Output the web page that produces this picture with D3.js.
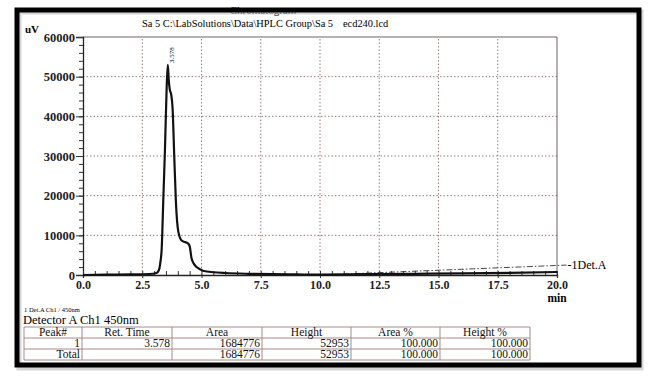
<!doctype html>
<html lang="en">
<head>
<meta charset="utf-8">
<title>Chromatogram</title>
<script src="https://cdn.jsdelivr.net/npm/d3@7"></script>
<style>
  html, body { margin: 0; background: #fff; }
  svg { display: block; font-family: "Liberation Serif", "Times New Roman", serif; }
</style>
</head>
<body>
<div id="chart"></div>
<script>
// chromatogram trace (min, uV)
const times  = [0, 1, 2, 2.8, 3.1, 3.2, 3.26, 3.32, 3.39, 3.46, 3.53, 3.578, 3.62, 3.66, 3.72, 3.78, 3.85, 3.92, 4.02, 4.16, 4.3, 4.42, 4.5, 4.58, 4.68, 4.79, 4.95, 5.1, 5.5, 6, 7, 8, 9, 10, 12, 14, 16, 18, 20];
const signal = [0, 100, 150, 250, 500, 1200, 3000, 6600, 19300, 32000, 47200, 52953, 49000, 46800, 45500, 42000, 30000, 18500, 11000, 8700, 8300, 8000, 7300, 4200, 2800, 2000, 1400, 1000, 700, 500, 300, 200, 150, 100, 200, 300, 400, 550, 750];

// dash-dot baseline drawn to the Det.A label
const baseTimes  = [10, 20.4];
const baseValues = [0, 2500];

const xTicks = [0, 2.5, 5, 7.5, 10, 12.5, 15, 17.5, 20];
const yTicks = [0, 10000, 20000, 30000, 40000, 50000, 60000];

const peakTime = 3.578, peakHeight = 52953;

const tableHeader = ["Peak#", "Ret. Time", "Area", "Height", "Area %", "Height %"];
const peakRow  = ["1", "3.578", "1684776", "52953", "100.000", "100.000"];
const totalRow = ["Total", "", "1684776", "52953", "100.000", "100.000"];

const W = 650, H = 379;
const svg = d3.select("#chart").append("svg").attr("width", W).attr("height", H);
svg.append("rect").attr("width", W).attr("height", H).attr("fill", "#fff");

const x = d3.scaleLinear().domain([0, 20]).range([83, 557]);
const y = d3.scaleLinear().domain([0, 60000]).range([275, 37]);

// titles
svg.append("text").attr("x", 263).attr("y", 14).attr("text-anchor", "middle")
    .attr("font-size", 11).text("Chromatogram");
svg.append("text").attr("x", 142).attr("y", 27).attr("font-size", 10.4)
    .text("Sa 5 C:\\LabSolutions\\Data\\HPLC Group\\Sa 5");
svg.append("text").attr("x", 343).attr("y", 27).attr("font-size", 10.4)
    .text("ecd240.lcd");

// grid
const grid = svg.append("g").attr("stroke", "#8c6f66").attr("stroke-width", 0.9)
    .attr("stroke-dasharray", "1.5,2");
grid.selectAll("line.v").data(xTicks.slice(1, -1)).join("line")
    .attr("x1", d => x(d)).attr("x2", d => x(d))
    .attr("y1", y(0)).attr("y2", y(60000));
grid.selectAll("line.h").data(yTicks.slice(1, -1)).join("line")
    .attr("x1", x(0)).attr("x2", x(20))
    .attr("y1", d => y(d)).attr("y2", d => y(d));

// top / right frame of plot
svg.append("path")
    .attr("d", `M${x(0)},${y(60000)}H${x(20)}V${y(0)}`)
    .attr("fill", "none").attr("stroke", "#6e6262").attr("stroke-width", 1);

// y axis
const yMinor = d3.range(0, 60001, 2000);
svg.append("g").attr("transform", `translate(${x(0)},0)`)
    .call(d3.axisLeft(y).tickValues(yMinor).tickSize(4).tickFormat(""))
    .call(g => g.select(".domain").remove())
    .selectAll("line").attr("stroke", "#333");
svg.append("g").attr("transform", `translate(${x(0)},0)`)
    .call(d3.axisLeft(y).tickValues(yTicks).tickSize(7).tickPadding(1).tickFormat(d3.format("d")))
    .call(g => g.select(".domain").attr("stroke", "#222").attr("stroke-width", 1.3))
    .call(g => g.selectAll("line").attr("stroke", "#333"))
    .call(g => g.selectAll("text").attr("font-family", "Liberation Serif").attr("font-size", 12.5)
        .attr("font-weight", "bold").attr("fill", "#222"));

// x axis
const xMinor = d3.range(0, 20.01, 0.5);
svg.append("g").attr("transform", `translate(0,${y(0)})`)
    .call(d3.axisBottom(x).tickValues(xMinor).tickSize(-4).tickFormat(""))
    .call(g => g.select(".domain").remove())
    .selectAll("line").attr("stroke", "#333");
svg.append("g").attr("transform", `translate(0,${y(0)})`)
    .call(d3.axisBottom(x).tickValues(xTicks).tickSize(3).tickPadding(2).tickFormat(d3.format(".1f")))
    .call(g => g.select(".domain").attr("stroke", "#222").attr("stroke-width", 1.3))
    .call(g => g.selectAll("line").attr("stroke", "#333"))
    .call(g => g.selectAll("text").attr("font-family", "Liberation Serif").attr("font-size", 12)
        .attr("font-weight", "bold").attr("fill", "#222"));

svg.append("text").attr("x", 25).attr("y", 33).attr("font-size", 11)
    .attr("font-weight", "bold").text("uV");
svg.append("text").attr("x", x(20)).attr("y", 302).attr("text-anchor", "middle")
    .attr("font-size", 11.5).attr("font-weight", "bold").text("min");

// dash-dot baseline
svg.append("path")
    .datum(d3.zip(baseTimes, baseValues))
    .attr("fill", "none").attr("stroke", "#333").attr("stroke-width", 0.9)
    .attr("stroke-dasharray", "6,2,1.5,2")
    .attr("d", d3.line().x(d => x(d[0])).y(d => y(d[1])));
svg.append("text").attr("x", x(baseTimes[1]) + 1).attr("y", y(baseValues[1]) + 4)
    .attr("font-size", 12).text("-1Det.A");

// trace
svg.append("path")
    .datum(d3.zip(times, signal))
    .attr("fill", "none").attr("stroke", "#111").attr("stroke-width", 2.2)
    .attr("stroke-linejoin", "round")
    .attr("d", d3.line().x(d => x(d[0])).y(d => y(d[1])).curve(d3.curveMonotoneX));

// peak label
svg.append("text")
    .attr("transform", `translate(${x(peakTime) + 6},${y(peakHeight) - 2}) rotate(-90)`)
    .attr("font-size", 7).text(peakTime.toFixed(3));

// peak table
svg.append("text").attr("x", 24).attr("y", 312).attr("font-size", 6.5).text("1   Det.A Ch1 / 450nm");
svg.append("text").attr("x", 23).attr("y", 324).attr("font-size", 12.5).text("Detector A Ch1 450nm");

const colX = [24, 82, 172, 262, 351, 440, 530];
const rowY = [327, 338, 349, 360];
const tbl = svg.append("g").attr("stroke", "#a88888").attr("stroke-width", 1);
colX.forEach(cx => tbl.append("line").attr("x1", cx).attr("x2", cx).attr("y1", rowY[0]).attr("y2", rowY[3]));
rowY.forEach(ry => tbl.append("line").attr("x1", colX[0]).attr("x2", colX[6]).attr("y1", ry).attr("y2", ry));

const cells = svg.append("g").attr("font-size", 11.5).attr("fill", "#111");
tableHeader.forEach((t, i) => cells.append("text")
    .attr("x", (colX[i] + colX[i + 1]) / 2).attr("y", rowY[1] - 2)
    .attr("text-anchor", "middle").text(t));
[peakRow, totalRow].forEach((row, r) => row.forEach((t, i) => cells.append("text")
    .attr("x", colX[i + 1] - 2).attr("y", rowY[r + 2] - 2)
    .attr("text-anchor", "end").text(t)));

// black photo frame with shadow
svg.append("rect").attr("x", 19).attr("y", 12).attr("width", 622).attr("height", 356)
    .attr("fill", "none").attr("stroke", "#bbb").attr("stroke-width", 5).attr("opacity", 0.6);
svg.append("rect").attr("x", 17).attr("y", 10).attr("width", 622).attr("height", 355)
    .attr("fill", "none").attr("stroke", "#000").attr("stroke-width", 5);
</script>
</body>
</html>
